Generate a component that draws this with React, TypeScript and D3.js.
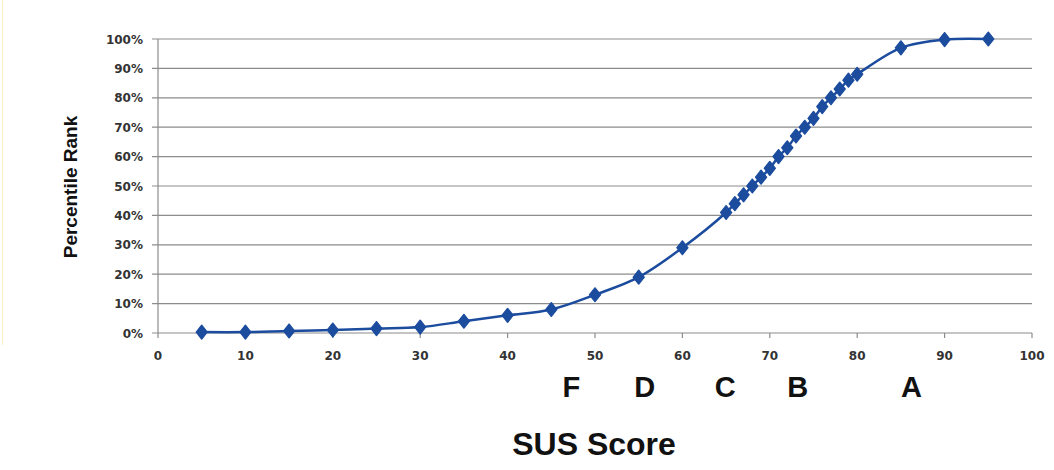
import React, { useEffect, useRef } from "react";
import * as d3 from "d3";

// SUS score vs percentile rank
const susScores = [5, 10, 15, 20, 25, 30, 35, 40, 45, 50, 55, 60, 65, 66, 67, 68, 69, 70, 71, 72, 73, 74, 75, 76, 77, 78, 79, 80, 85, 90, 95];
const percentiles = [0.3, 0.3, 0.7, 1, 1.5, 2, 4, 6, 8, 13, 19, 29, 41, 44, 47, 50, 53, 56, 60, 63, 67, 70, 73, 77, 80, 83, 86, 88, 97, 99.8, 100];

const xTicks = [0, 10, 20, 30, 40, 50, 60, 70, 80, 90, 100];
const yTicks = [0, 10, 20, 30, 40, 50, 60, 70, 80, 90, 100];

const gradeLetters = ["F", "D", "C", "B", "A"];
const gradeScores = [47.3, 55.7, 64.9, 73.2, 86.2];

const App = () => {
  const ref = useRef<SVGSVGElement | null>(null);

  useEffect(() => {
    if (!ref.current) return;
    const width = 1054;
    const height = 470;
    const svg = d3.select(ref.current);
    svg.selectAll("*").remove();

    svg.append("rect").attr("width", width).attr("height", height).attr("fill", "#fff");

    // faint border line on the left edge
    svg
      .append("line")
      .attr("x1", 2.5)
      .attr("x2", 2.5)
      .attr("y1", 0)
      .attr("y2", 345)
      .attr("stroke", "#fbf0c4")
      .attr("stroke-width", 1);

    const x = d3.scaleLinear().domain([0, 100]).range([158, 1032]);
    const y = d3.scaleLinear().domain([0, 100]).range([333, 39]);
    const lineColor = "#1c4c9e";
    const gridColor = "#8c8c8c";
    const tickFont = "'DejaVu Sans', Verdana, sans-serif";

    // Gridlines
    svg
      .append("g")
      .selectAll("line")
      .data(yTicks)
      .enter()
      .append("line")
      .attr("x1", x(0) - 6)
      .attr("x2", x(100))
      .attr("y1", (d) => y(d))
      .attr("y2", (d) => y(d))
      .attr("stroke", gridColor)
      .attr("stroke-width", 1.2);

    // Y axis line
    svg
      .append("line")
      .attr("x1", x(0))
      .attr("x2", x(0))
      .attr("y1", y(100))
      .attr("y2", y(0))
      .attr("stroke", gridColor)
      .attr("stroke-width", 1.2);

    // X tick marks
    svg
      .append("g")
      .selectAll("line")
      .data(xTicks)
      .enter()
      .append("line")
      .attr("x1", (d) => x(d))
      .attr("x2", (d) => x(d))
      .attr("y1", y(0))
      .attr("y2", y(0) + 5)
      .attr("stroke", gridColor)
      .attr("stroke-width", 1.2);

    // Y tick labels
    svg
      .append("g")
      .selectAll("text")
      .data(yTicks)
      .enter()
      .append("text")
      .attr("x", x(0) - 15)
      .attr("y", (d) => y(d) + 4.5)
      .attr("text-anchor", "end")
      .attr("font-family", tickFont)
      .attr("font-weight", "bold")
      .attr("font-size", 12)
      .attr("fill", "#333")
      .text((d) => `${d}%`);

    // X tick labels
    svg
      .append("g")
      .selectAll("text")
      .data(xTicks)
      .enter()
      .append("text")
      .attr("x", (d) => x(d))
      .attr("y", y(0) + 27)
      .attr("text-anchor", "middle")
      .attr("font-family", tickFont)
      .attr("font-weight", "bold")
      .attr("font-size", 12)
      .attr("fill", "#333")
      .text((d) => d);

    // Curve
    const pts = susScores.map((s, i) => [s, percentiles[i]] as [number, number]);
    const line = d3
      .line<[number, number]>()
      .x((d) => x(d[0]))
      .y((d) => y(d[1]))
      .curve(d3.curveCatmullRom.alpha(0.5));

    svg
      .append("path")
      .datum(pts)
      .attr("d", line)
      .attr("fill", "none")
      .attr("stroke", lineColor)
      .attr("stroke-width", 2.5);

    // Diamond markers
    const diamond = d3.symbol().type(d3.symbolDiamond).size(64);
    svg
      .append("g")
      .selectAll("path")
      .data(pts)
      .enter()
      .append("path")
      .attr("transform", (d) => `translate(${x(d[0])}, ${y(d[1])}) scale(1.3, 0.95)`)
      .attr("d", diamond)
      .attr("fill", lineColor)
      .attr("stroke", lineColor)
      .attr("stroke-width", 1)
      .attr("stroke-linejoin", "round");

    // Grade letters
    svg
      .append("g")
      .selectAll("text")
      .data(gradeLetters)
      .enter()
      .append("text")
      .attr("x", (d, i) => x(gradeScores[i]))
      .attr("y", 397)
      .attr("text-anchor", "middle")
      .attr("font-family", "'Liberation Sans', Arial, sans-serif")
      .attr("font-weight", "bold")
      .attr("font-size", 29)
      .attr("fill", "#111")
      .text((d) => d);

    // Axis titles
    svg
      .append("text")
      .attr("x", 594)
      .attr("y", 455)
      .attr("text-anchor", "middle")
      .attr("font-family", "'Liberation Sans', Arial, sans-serif")
      .attr("font-weight", "bold")
      .attr("font-size", 32)
      .attr("fill", "#111")
      .text("SUS Score");

    svg
      .append("text")
      .attr("transform", "translate(77, 187) rotate(-90)")
      .attr("text-anchor", "middle")
      .attr("font-family", "'Liberation Sans Narrow', 'Liberation Sans', Arial, sans-serif")
      .attr("font-weight", "bold")
      .attr("font-size", 19)
      .attr("fill", "#111")
      .text("Percentile Rank");
  }, []);

  return (
    <svg
      ref={ref}
      width={1054}
      height={470}
      style={{ position: "absolute", left: 0, top: 0 }}
    />
  );
};

export default App;
